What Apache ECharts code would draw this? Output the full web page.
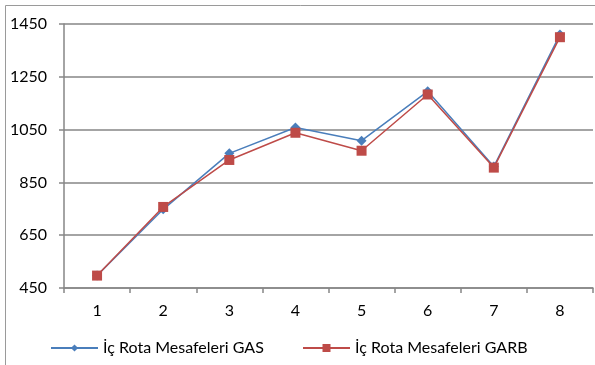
<!DOCTYPE html>
<html>
<head>
<meta charset="utf-8">
<script src="https://cdn.jsdelivr.net/npm/echarts@6/dist/echarts.min.js"></script>
<style>
  html, body { margin: 0; padding: 0; background: #fff; }
  #chart { width: 595px; height: 365px; }
</style>
</head>
<body>
<div id="chart"></div>
<script>
// Route indices and measured internal-route distances for the two methods
const categories = ['1', '2', '3', '4', '5', '6', '7', '8'];
const gasValues  = [497, 748, 960, 1058, 1008, 1195, 910, 1410];
const garbValues = [497, 757, 935, 1038, 970, 1183, 906, 1400];
const gasName  = 'İç Rota Mesafeleri GAS';
const garbName = 'İç Rota Mesafeleri GARB';

const FONT = 'Lato, "Open Sans", sans-serif';
const GRID_COLOR = '#868686';

const chart = echarts.init(document.getElementById('chart'), null, { renderer: 'canvas' });

chart.setOption({
  animation: false,
  backgroundColor: '#fff',
  textStyle: { fontFamily: FONT },
  graphic: [{
    type: 'rect',
    shape: { x: 5.5, y: 5.5, width: 600, height: 400 },
    style: { fill: 'none', stroke: '#9a9a9a', lineWidth: 1 },
    silent: true
  }],
  legend: [{
    left: 50, top: 340, padding: 0,
    itemWidth: 47, itemHeight: 9,
    data: [gasName],
    textStyle: { fontFamily: FONT, fontSize: 16, color: '#000' }
  }, {
    left: 302, top: 340, padding: 0,
    itemWidth: 47, itemHeight: 10,
    data: [garbName],
    textStyle: { fontFamily: FONT, fontSize: 16, color: '#000' }
  }],
  grid: { left: 64, right: 2, top: 24, bottom: 77, containLabel: false },
  xAxis: {
    type: 'category',
    data: categories,
    boundaryGap: true,
    axisLine: { lineStyle: { color: GRID_COLOR, width: 1.5 } },
    axisTick: { show: true, length: 5, inside: false, lineStyle: { color: GRID_COLOR, width: 1.5 } },
    axisLabel: { color: '#000', fontSize: 16, margin: 15, fontFamily: FONT }
  },
  yAxis: {
    type: 'value',
    min: 450, max: 1450, interval: 200,
    axisLine: { show: true, lineStyle: { color: GRID_COLOR, width: 1.5 } },
    axisTick: { show: true, length: 5, lineStyle: { color: GRID_COLOR, width: 1.5 } },
    axisLabel: { color: '#000', fontSize: 16, margin: 17, fontFamily: FONT, formatter: v => String(v) },
    splitLine: { show: true, lineStyle: { color: GRID_COLOR, width: 1.5 } }
  },
  series: [{
    name: gasName,
    type: 'line',
    data: gasValues,
    symbol: 'diamond',
    symbolSize: 10,
    itemStyle: { color: '#4A7EBB' },
    lineStyle: { color: '#4A7EBB', width: 1.5 },
    z: 2
  }, {
    name: garbName,
    type: 'line',
    data: garbValues,
    symbol: 'rect',
    symbolSize: 10,
    itemStyle: { color: '#BE4B48' },
    lineStyle: { color: '#BE4B48', width: 1.5 },
    z: 3
  }]
});
</script>
</body>
</html>
